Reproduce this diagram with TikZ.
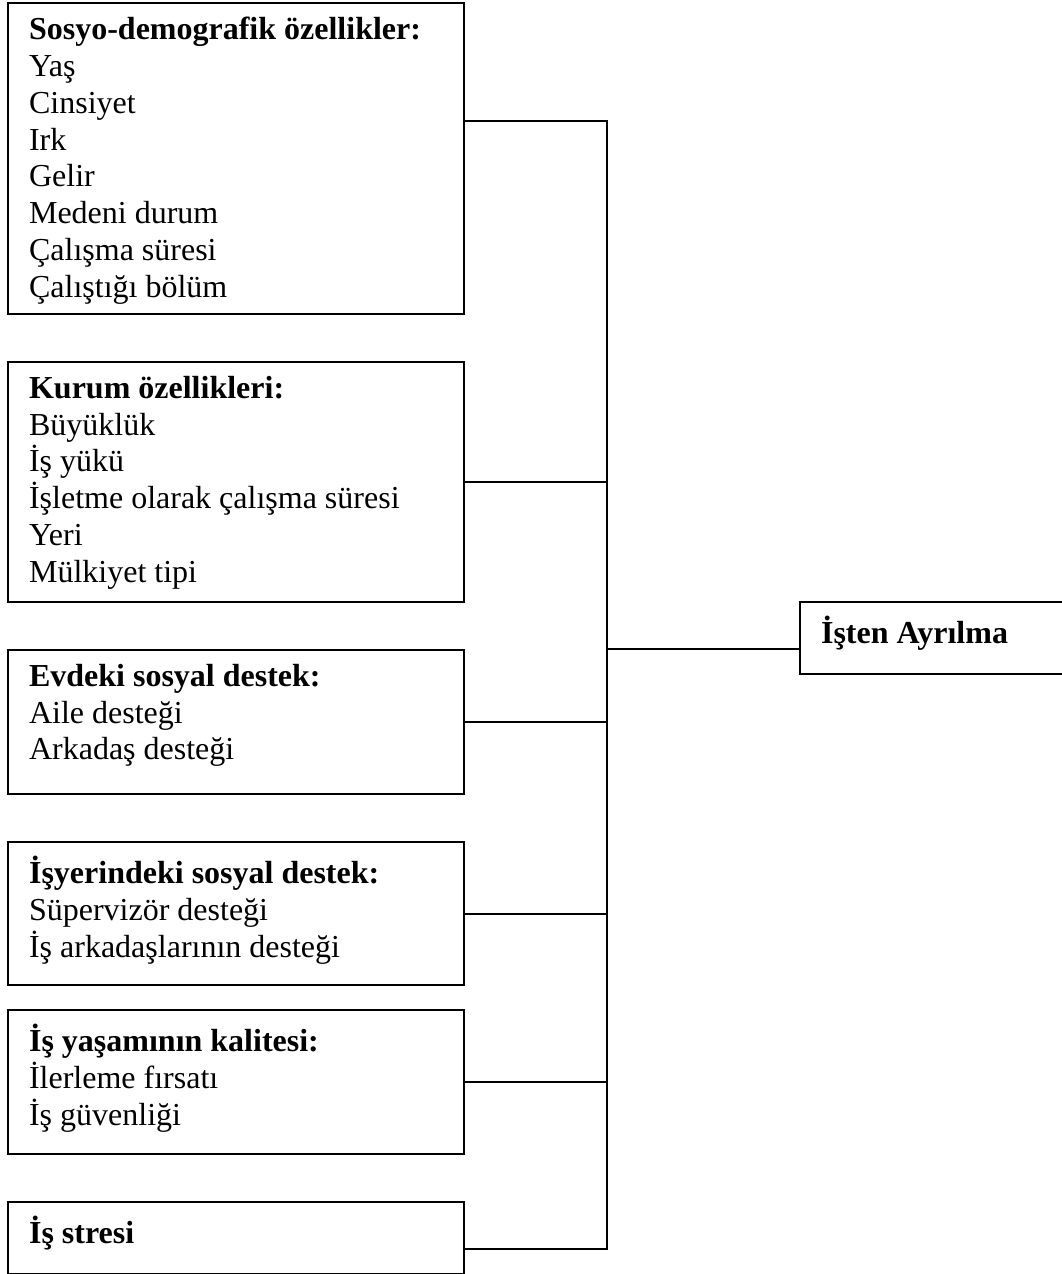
\documentclass[tikz,border=0pt]{standalone}
\usepackage{fontspec}
\setmainfont{Liberation Serif}
\usetikzlibrary{positioning,calc}

\begin{document}
\begin{tikzpicture}[x=0.375pt,y=-0.375pt,line width=0.8pt,
  factor/.style={draw,rectangle,anchor=north west,minimum width=171pt,inner sep=0pt},
  factortext/.style={anchor=north west,align=left,inner sep=0pt,
    font=\fontsize{12}{13.8}\selectfont,execute at begin node=\strut}]
  \useasboundingbox (0,0) rectangle (1062,1274);
  \clip (0,0) rectangle (1062,1274);
  % factor boxes: name/top/height (px)
  \foreach \n/\t/\h in {b1/2/311,b2/361/240,b3/649/144,b4/841/143,b5/1009/144,b6/1201/72}{
      \node[factor,minimum height=\h*0.375pt] (\n) at (7,\t) {};
  }
  \node[factor,minimum width=120pt,minimum height=27pt] (out) at (799,601) {};
  \node[factortext] (t1) at ($(b1.north west)+(21,14)$) {\textbf{Sosyo-demografik özellikler:}\\Yaş\\Cinsiyet\\Irk\\Gelir\\Medeni durum\\Çalışma süresi\\Çalıştığı bölüm};
  \node[factortext] (t2) at ($(b2.north west)+(21,14)$) {\textbf{Kurum özellikleri:}\\Büyüklük\\İş yükü\\İşletme olarak çalışma süresi\\Yeri\\Mülkiyet tipi};
  \node[factortext] (t3) at ($(b3.north west)+(21,14)$) {\textbf{Evdeki sosyal destek:}\\Aile desteği\\Arkadaş desteği};
  \node[factortext] (t4) at ($(b4.north west)+(21,14)$) {\textbf{İşyerindeki sosyal destek:}\\Süpervizör desteği\\İş arkadaşlarının desteği};
  \node[factortext] (t5) at ($(b5.north west)+(21,14)$) {\textbf{İş yaşamının kalitesi:}\\İlerleme fırsatı\\İş güvenliği};
  \node[factortext] (t6) at ($(b6.north west)+(21,14)$) {\textbf{İş stresi}};
  \node[factortext] (tout) at ($(out.north west)+(21,14)$) {\textbf{İşten Ayrılma}};
  % collecting line
  \coordinate (jtop) at (607,121);
  \coordinate (jbot) at (607,1249);
  \coordinate (jout) at (607,649);
  \draw (b1.east |- jtop) -- (jtop) -- (jbot) -- (b6.east |- jbot);
  \foreach \n in {b2,b3,b4,b5}{
      \draw (\n.east) -- (\n.east -| jtop);
  }
  \draw (jout) -- (out.west |- jout);
\end{tikzpicture}
\end{document}
